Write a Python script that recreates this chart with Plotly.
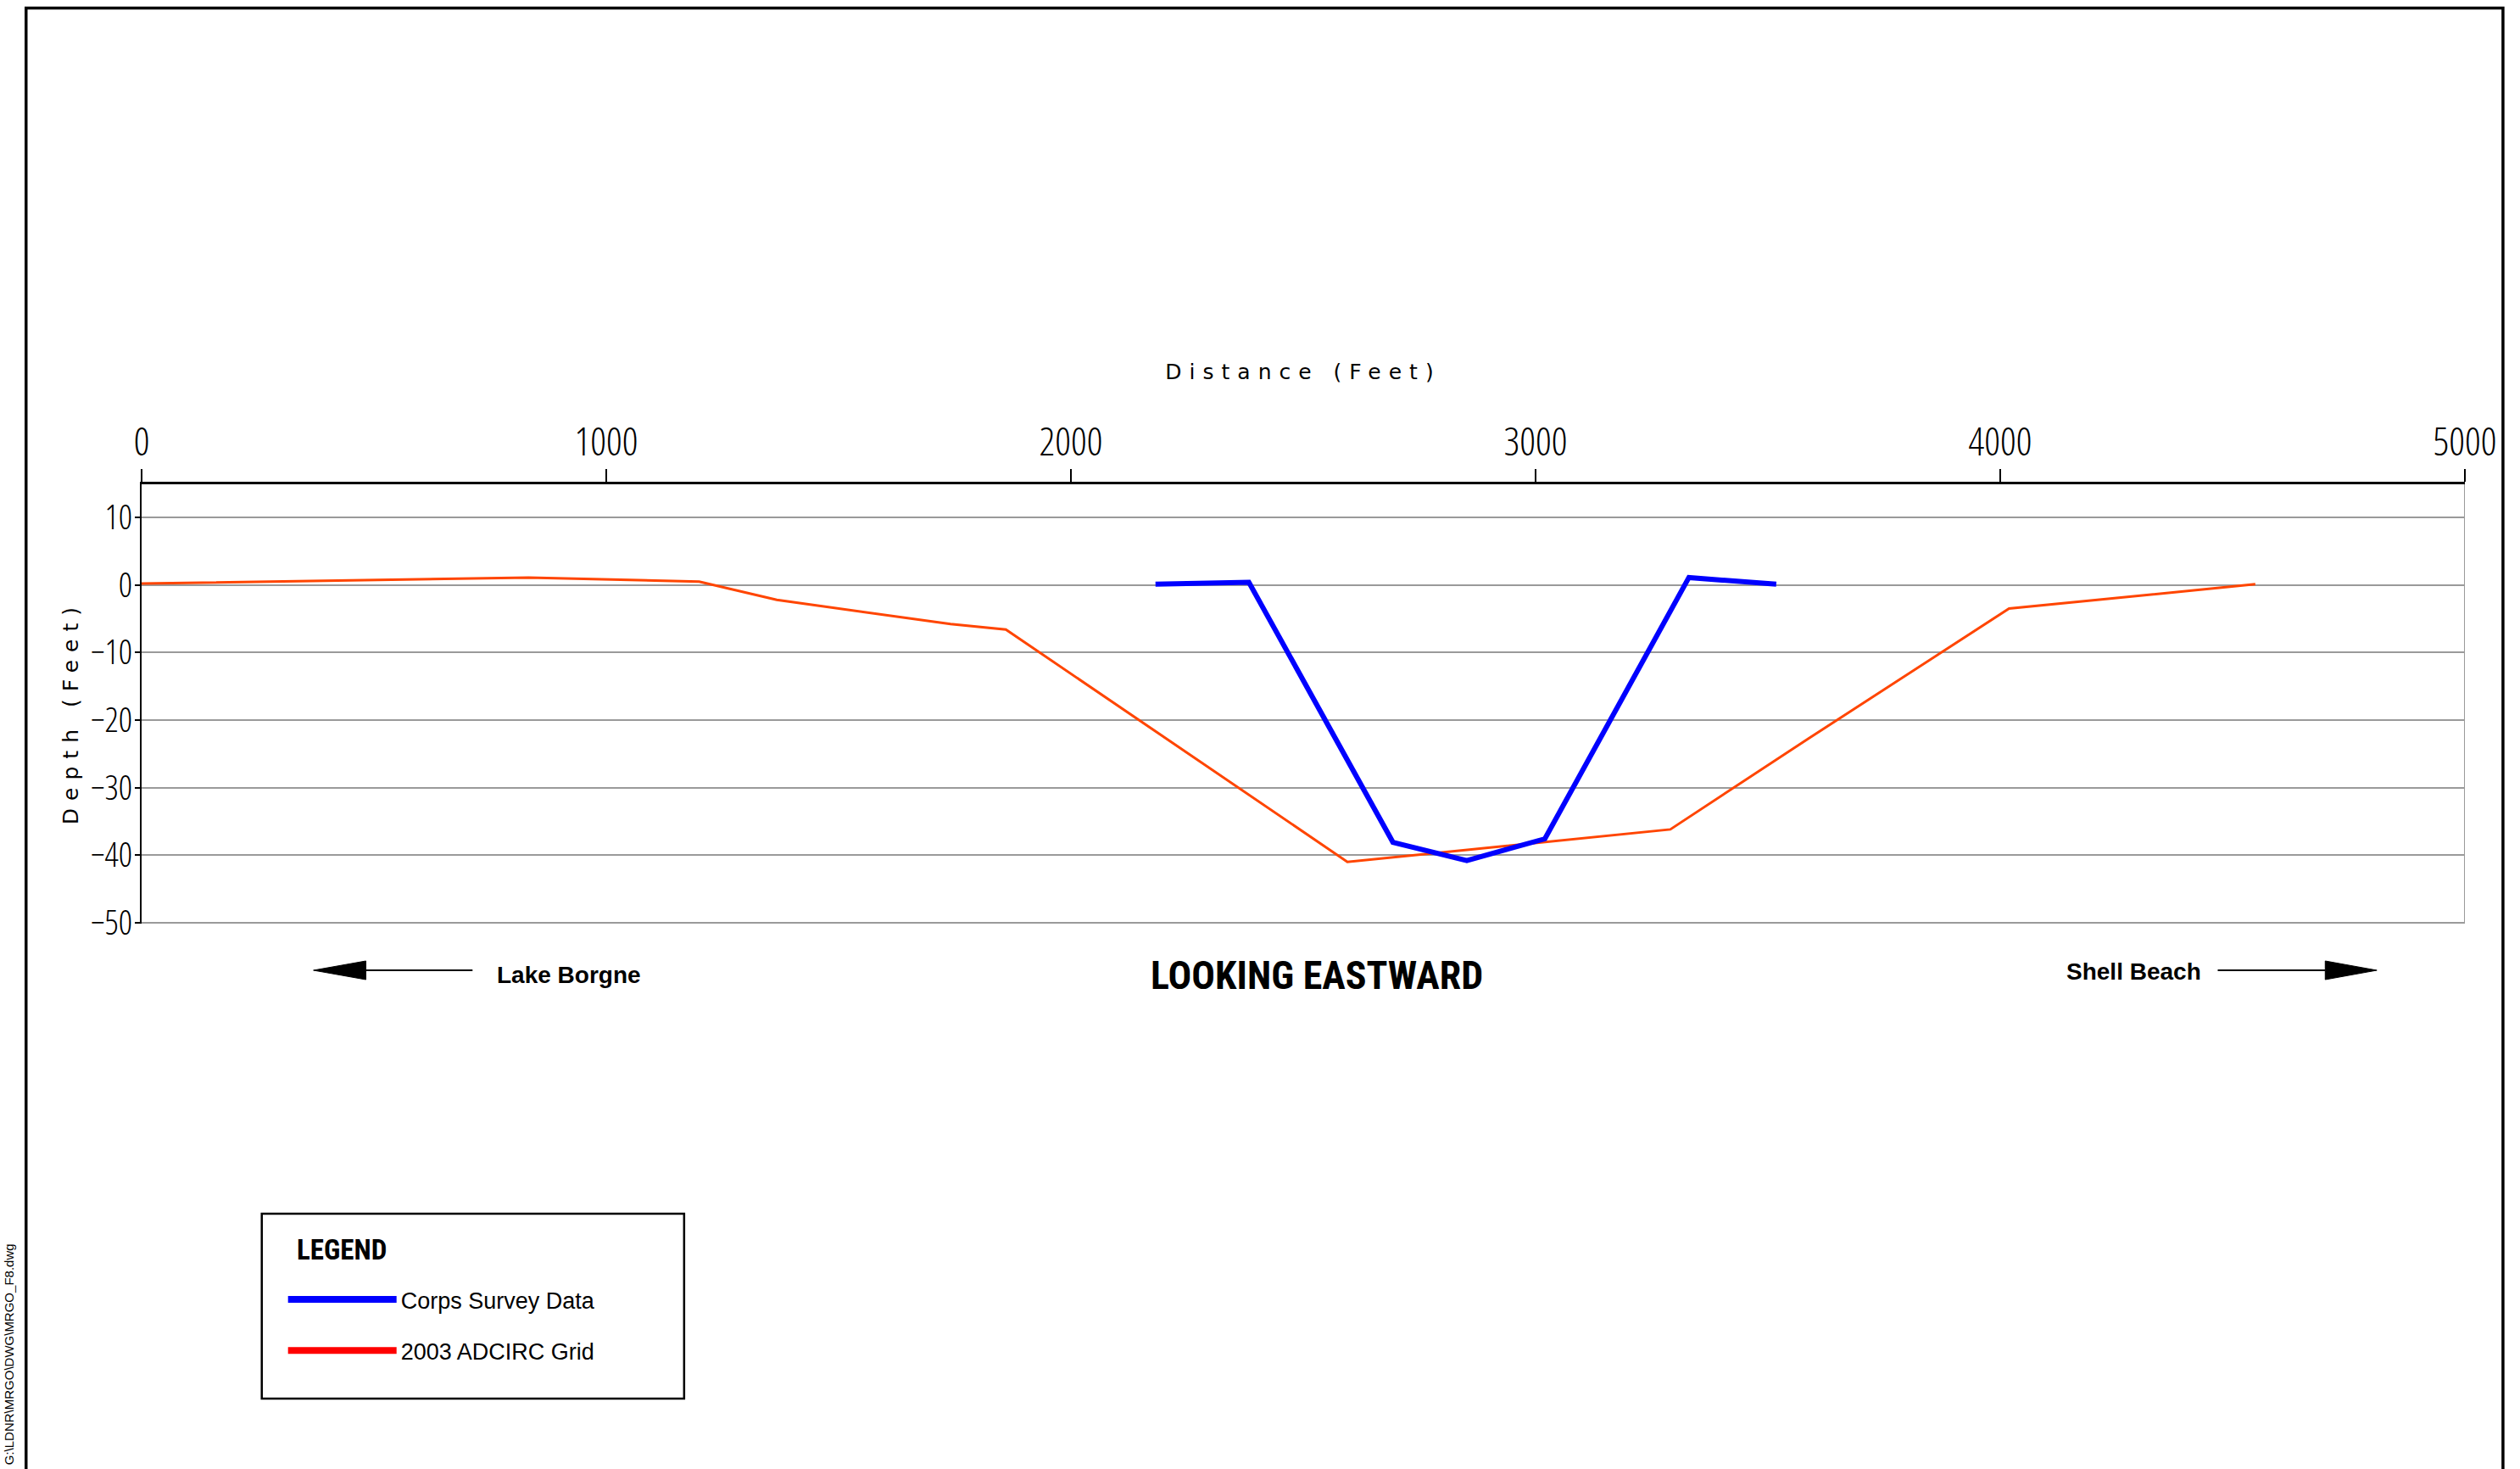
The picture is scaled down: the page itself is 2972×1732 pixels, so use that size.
import plotly.graph_objects as go

# Cross-section profile data (distance in feet, depth in feet)
dist_grid = [0, 833, 1200, 1367, 1741, 1860, 2595, 3290, 3586, 4019, 4549]
depth_grid = [0.2, 1.1, 0.5, -2.2, -5.8, -6.6, -41.0, -36.2, -22.8, -3.5, 0.1]

dist_survey = [2182, 2383, 2693, 2852, 3020, 3330, 3518]
depth_survey = [0.1, 0.4, -38.1, -40.8, -37.6, 1.1, 0.1]

x_ticks = [0, 1000, 2000, 3000, 4000, 5000]
y_ticks = [10, 0, -10, -20, -30, -40, -50]

series_names = ["Corps Survey Data", "2003 ADCIRC Grid"]

# Page geometry (pixels)
W, H = 2972, 1732
L, R = 167, 2912          # plot area left/right
T, B = 571, 1089          # plot area top/bottom
PW, PH = R - L, B - T

THIN = "Open Sans, Noto Sans, sans-serif"
COND = "Roboto Condensed, Liberation Sans, sans-serif"
ARIAL = "Liberation Sans, Arial, sans-serif"
WIDE = "DejaVu Sans, Verdana, sans-serif"


def px(x):
    return (x - L) / PW


def py(y):
    return (B - y) / PH


fig = go.Figure()

fig.add_trace(go.Scatter(
    x=dist_grid, y=depth_grid, mode="lines",
    line=dict(color="#FF4500", width=3),
    name=series_names[1], showlegend=False,
))
fig.add_trace(go.Scatter(
    x=dist_survey, y=depth_survey, mode="lines",
    line=dict(color="#0000FF", width=6),
    name=series_names[0], showlegend=False,
))

# legend entries
fig.add_trace(go.Scatter(
    x=[None], y=[None], mode="lines", line=dict(color="#0000FF", width=8),
    name=series_names[0], legendgroup="a", showlegend=True,
))
fig.add_trace(go.Scatter(
    x=[None], y=[None], mode="lines", line=dict(color="#FF0000", width=8),
    name=series_names[1], legendgroup="b", showlegend=True,
))

shapes = []
# outer drawing frame (left, top, right)
shapes.append(dict(
    type="path", xref="paper", yref="paper",
    path=f"M {px(30.5)},{py(1760)} L {px(30.5)},{py(9.5)} L {px(2957)},{py(9.5)} L {px(2957)},{py(1760)}",
    line=dict(color="black", width=3.5),
))
# right edge of the plot area
shapes.append(dict(
    type="line", xref="x", yref="paper", x0=x_ticks[-1], x1=x_ticks[-1], y0=0, y1=1,
    line=dict(color="#9a9a9a", width=2), layer="below",
))
# direction arrows
for (x0, x1, tip) in [(432, 558, 370), (2620, 2747, 2808)]:
    shapes.append(dict(
        type="line", xref="paper", yref="paper",
        x0=px(x0), x1=px(x1), y0=py(1144), y1=py(1144),
        line=dict(color="black", width=2),
    ))
    base = x0 if tip < x0 else x1
    shapes.append(dict(
        type="path", xref="paper", yref="paper",
        path=f"M {px(tip)},{py(1144)} L {px(base)},{py(1133)} L {px(base)},{py(1155)} Z",
        fillcolor="black", line=dict(color="black", width=1),
    ))
# legend box
shapes.append(dict(
    type="rect", xref="paper", yref="paper",
    x0=px(309), x1=px(808), y0=py(1431), y1=py(1649),
    line=dict(color="black", width=2.5), fillcolor="rgba(0,0,0,0)",
))

annotations = [
    dict(text="Depth (Feet)", x=px(83), y=py(840), xref="paper", yref="paper",
         xanchor="center", yanchor="middle", showarrow=False, textangle=-90,
         font=dict(family=WIDE, size=25, color="black")),
    dict(text="<b>LOOKING EASTWARD</b>", x=px(1556), y=py(1150), xref="paper", yref="paper",
         xanchor="center", yanchor="middle", showarrow=False,
         font=dict(family=COND, size=46, color="black")),
    dict(text="<b>Lake Borgne</b>", x=px(585), y=py(1149), xref="paper", yref="paper",
         xanchor="left", yanchor="middle", showarrow=False,
         font=dict(family=ARIAL, size=28, color="black")),
    dict(text="<b>Shell Beach</b>", x=px(2439), y=py(1145), xref="paper", yref="paper",
         xanchor="left", yanchor="middle", showarrow=False,
         font=dict(family=ARIAL, size=28, color="black")),
    dict(text="<b>LEGEND</b>", x=px(348), y=py(1473), xref="paper", yref="paper",
         xanchor="left", yanchor="middle", showarrow=False,
         font=dict(family=COND, size=33, color="black")),
    dict(text="G:\\LDNR\\MRGO\\DWG\\MRGO_F8.dwg", x=px(10), y=py(1597), xref="paper", yref="paper",
         xanchor="center", yanchor="middle", showarrow=False, textangle=-90,
         font=dict(family=ARIAL, size=15, color="black")),
]

fig.update_layout(
    width=W, height=H, autosize=False,
    margin=dict(l=L, r=W - R, t=T, b=H - B, pad=0),
    paper_bgcolor="white", plot_bgcolor="white",
    showlegend=True,
    legend=dict(
        x=px(335), y=py(1508), xanchor="left", yanchor="top",
        bgcolor="rgba(0,0,0,0)", borderwidth=0,
        font=dict(family=ARIAL, size=27, color="black"),
        itemwidth=128, tracegroupgap=22, itemclick=False,
    ),
    xaxis=dict(
        range=[0, 5000], side="top", anchor="y",
        tickmode="array", tickvals=x_ticks, ticktext=[str(v) for v in x_ticks],
        ticks="outside", ticklen=15, tickwidth=2, tickcolor="black",
        showline=True, linecolor="black", linewidth=3,
        showgrid=False, zeroline=False,
        tickfont=dict(family=THIN, size=46, weight=300, color="black"),
        ticklabelstandoff=-2,
        title=dict(text="Distance (Feet)", standoff=33,
                   font=dict(family=WIDE, size=25, color="black")),
    ),
    xaxis2=dict(
        overlaying="x", matches="x", side="top", anchor="y",
        tickmode="array", tickvals=x_ticks,
        ticks="inside", ticklen=18, tickwidth=2, tickcolor="black",
        showticklabels=False, showline=False, showgrid=False, zeroline=False,
    ),
    yaxis=dict(
        range=[-50.15, 14.9],
        tickmode="array", tickvals=y_ticks, ticktext=[str(v).replace("-", "\u2212") for v in y_ticks],
        ticks="outside", ticklen=6, tickwidth=2, tickcolor="black",
        showline=True, linecolor="black", linewidth=2,
        showgrid=True, gridcolor="#9a9a9a", gridwidth=2, zeroline=False,
        tickfont=dict(family=THIN, size=40, weight=300, color="black"),
        ticklabelstandoff=-5,
    ),
    shapes=shapes,
    annotations=annotations,
)

# condensed tick numerals and tracked-out axis titles
post = """
document.querySelectorAll('g.xtick text, g.ytick text').forEach(function(t){
    t.style.fontStretch = '75%';
});
document.querySelectorAll('text').forEach(function(t){
    var s = t.textContent;
    if (s === 'Distance (Feet)' || s === 'Depth (Feet)') {
        t.style.letterSpacing = '9px';
    }
});
"""
fig.write_html("out.html", post_script=post)
